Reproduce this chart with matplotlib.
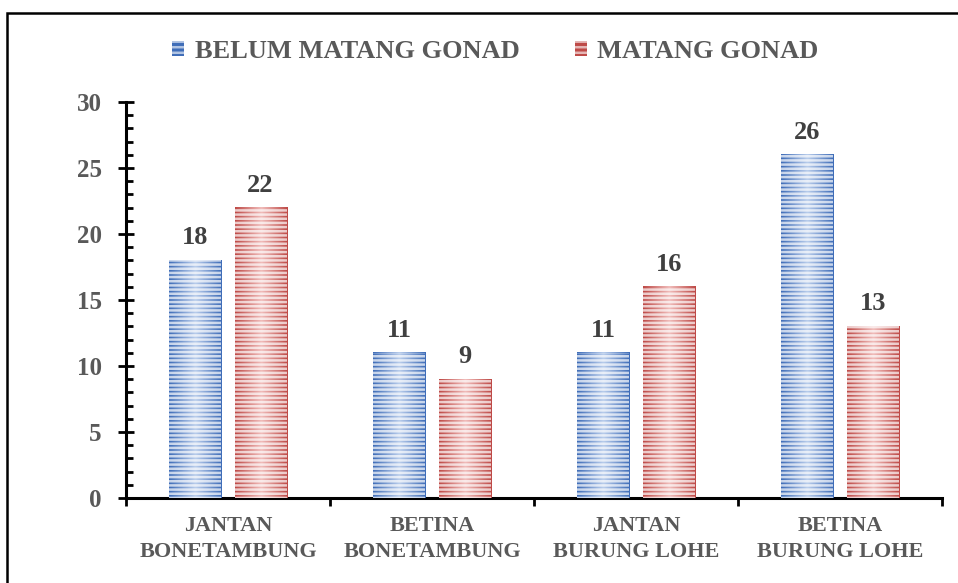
import numpy as np
import matplotlib
matplotlib.use("Agg")
import matplotlib.pyplot as plt
from matplotlib.patches import Patch, Rectangle
from matplotlib.colors import LinearSegmentedColormap

plt.rcParams["font.family"] = ["Liberation Serif", "DejaVu Serif"]
plt.rcParams["font.weight"] = "bold"
plt.rcParams["hatch.linewidth"] = 1.8

categories = ["JANTAN\nBONETAMBUNG", "BETINA\nBONETAMBUNG", "JANTAN\nBURUNG LOHE", "BETINA\nBURUNG LOHE"]
series_names = ["BELUM MATANG GONAD", "MATANG GONAD"]
belum = [18, 11, 11, 26]
matang = [22, 9, 16, 13]
y_ticks = [0, 5, 10, 15, 20, 25, 30]

BLUE_EDGE = "#3F6DB8"
BLUE_MID = "#B9CDEC"
RED_EDGE = "#BE4A47"
RED_MID = "#F1BDBB"
GREY = "#595959"
LABEL = "#404040"

fig = plt.figure(figsize=(9.58, 5.83), dpi=100, facecolor="white")
ax = fig.add_axes([0.1315, 0.1458, 0.8518, 0.6792])

# outer frame, cut off at right and bottom like the source
fig.patches.append(Rectangle((7 / 958, -0.2), 1.5, 1.2 - 13 / 583,
                             transform=fig.transFigure, fill=False,
                             edgecolor="black", linewidth=1.8))

x = np.arange(len(categories))
width = 0.255
offset = 0.16


def striped_bars(xpos, values, edge, mid):
    bars = ax.bar(xpos, values, width, color=mid, linewidth=0, zorder=2)
    cmap = LinearSegmentedColormap.from_list("g", [edge, mid, edge])
    grad = np.linspace(0, 1, 64).reshape(1, -1)
    for b in bars:
        x0, y0 = b.get_x(), b.get_y()
        w, h = b.get_width(), b.get_height()
        ax.imshow(grad, cmap=cmap, extent=[x0, x0 + w, y0, y0 + h],
                  aspect="auto", zorder=3, interpolation="bilinear")
    ax.bar(xpos, values, width, facecolor="none", edgecolor=(1, 1, 1, 0.7),
           hatch="----", linewidth=0, zorder=4)
    return bars


b1 = striped_bars(x - offset, belum, BLUE_EDGE, BLUE_MID)
b2 = striped_bars(x + offset, matang, RED_EDGE, RED_MID)

for bars in (b1, b2):
    ax.bar_label(bars, padding=8, fontsize=19, fontweight="bold", color=LABEL)

ax.set_xlim(-0.5, len(categories) - 0.5)
ax.set_ylim(0, 30)

ax.set_yticks(y_ticks)
ax.set_yticks(np.arange(0, 31, 1), minor=True)
ax.tick_params(axis="y", which="major", direction="inout", length=11, width=2,
               labelsize=18, labelcolor=GREY, pad=12)
ax.tick_params(axis="y", which="minor", direction="in", length=5, width=2)

ax.set_xticks(x)
ax.set_xticklabels(categories, fontsize=16, color=GREY, linespacing=1.4)
ax.set_xticks(np.arange(-0.5, len(categories), 1), minor=True)
ax.tick_params(axis="x", which="major", length=0, pad=13)
ax.tick_params(axis="x", which="minor", direction="out", length=6, width=2)

for side in ("top", "right"):
    ax.spines[side].set_visible(False)
for side in ("left", "bottom"):
    ax.spines[side].set_linewidth(2.2)

handles = [Patch(facecolor=BLUE_EDGE, edgecolor=(1, 1, 1, 0.6), hatch="---", linewidth=0),
           Patch(facecolor=RED_EDGE, edgecolor=(1, 1, 1, 0.6), hatch="---", linewidth=0)]
leg = fig.legend(handles, series_names, loc="center", bbox_to_anchor=(0.517, 0.912),
                 ncol=2, frameon=False, fontsize=19, handlelength=0.45, handleheight=0.5,
                 handletextpad=0.4, columnspacing=2.1)
for t in leg.get_texts():
    t.set_color(GREY)
    t.set_fontweight("bold")

fig.savefig("out.png", dpi=100, facecolor="white")
